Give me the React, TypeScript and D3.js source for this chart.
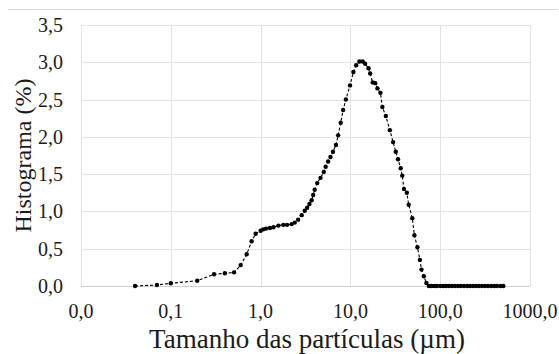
import React from "react";
import * as d3 from "d3";

const sizes: number[] = [
  0.04, 0.07, 0.1, 0.197, 0.303, 0.4, 0.506, 0.6, 0.7, 0.795, 0.88, 1.0, 1.07, 1.15, 1.27, 1.39,
  1.58, 1.79, 1.97, 2.22, 2.4, 2.62, 2.87, 3.1, 3.3, 3.5, 3.7, 3.85, 4.0, 4.27, 4.65, 5.05, 5.3,
  5.65, 6.0, 6.4, 6.9, 7.3, 7.8, 8.3, 8.9, 9.9, 10.8, 11.6, 12.6, 13.7, 14.6, 15.9, 16.6, 17.7,
  18.9, 20.0, 21.6, 22.7, 24.8, 27.5, 29.9, 32.0, 33.9, 36.3, 37.8, 39.5, 42.5, 44.6, 48.9, 51.6,
  55.8, 59.4, 61.9, 65.7, 70.2, 75, 80, 86, 92, 100, 108, 116, 125, 135, 146, 158, 170, 184, 200,
  215, 232, 250, 270, 292, 315, 340, 370, 400, 430, 470, 505,
];
const histogram: number[] = [
  0.0, 0.013, 0.036, 0.071, 0.157, 0.17, 0.183, 0.28, 0.425, 0.6, 0.7, 0.74, 0.76, 0.77, 0.777,
  0.787, 0.81, 0.82, 0.82, 0.83, 0.85, 0.89, 0.95, 1.01, 1.05, 1.1, 1.15, 1.22, 1.29, 1.38, 1.45,
  1.53, 1.6, 1.67, 1.73, 1.8, 1.89, 2.02, 2.19, 2.36, 2.5, 2.69, 2.87, 2.96, 3.01, 3.01, 2.98, 2.92,
  2.85, 2.73, 2.72, 2.65, 2.59, 2.4, 2.28, 2.09, 1.93, 1.8, 1.7, 1.58, 1.48, 1.3, 1.25, 1.09, 0.91,
  0.68, 0.52, 0.35, 0.22, 0.13, 0.04, 0, 0, 0, 0, 0, 0, 0, 0, 0, 0, 0, 0, 0, 0, 0, 0, 0, 0, 0, 0, 0,
  0, 0, 0, 0, 0,
];
const xTicks: number[] = [0.01, 0.1, 1, 10, 100, 1000];
const xTickLabels: string[] = ["0,0", "0,1", "1,0", "10,0", "100,0", "1000,0"];
const yTicks: number[] = [0, 0.5, 1, 1.5, 2, 2.5, 3, 3.5];
const xTitle = "Tamanho das partículas (µm)";
const yTitle = "Histograma (%)";

const W = 559;
const H = 354;
const plot = { left: 81, right: 530, top: 25, bottom: 286 };
const FONT = "'Liberation Serif', 'Times New Roman', serif";

export default function App() {
  const x = d3.scaleLog().domain([0.01, 1000]).range([plot.left, plot.right]);
  const y = d3.scaleLinear().domain([0, 3.5]).range([plot.bottom, plot.top]);
  const data = sizes.map((s, i) => ({ s, v: histogram[i] }));
  const line = d3
    .line<{ s: number; v: number }>()
    .x((d) => x(d.s))
    .y((d) => y(d.v));
  const fmt = (v: number) => v.toFixed(1).replace(".", ",");
  const grid = "#e3e3e3";
  const textStyle = { fontFamily: FONT };
  return (
    <svg
      width={W}
      height={H}
      style={{ position: "absolute", left: 0, top: 0, background: "#fff" }}
    >
      <line x1={8} x2={558} y1={9.5} y2={9.5} stroke="#d9d9d9" strokeWidth={1} />
      {yTicks.map((t) => (
        <line key={"gy" + t} x1={plot.left} x2={plot.right} y1={Math.round(y(t)) + 0.5} y2={Math.round(y(t)) + 0.5} stroke={grid} strokeWidth={1} />
      ))}
      {xTicks.map((t) => (
        <line key={"gx" + t} x1={Math.round(x(t)) + 0.5} x2={Math.round(x(t)) + 0.5} y1={plot.top} y2={plot.bottom} stroke={grid} strokeWidth={1} />
      ))}
      <line x1={plot.left} x2={plot.right} y1={Math.round(y(0)) + 0.5} y2={Math.round(y(0)) + 0.5} stroke="#d0d0d0" strokeWidth={1} />
      {yTicks.map((t) => (
        <text key={"ty" + t} x={63} y={y(t)} dy="0.35em" textAnchor="end" fontSize={20} fill="#1a1a1a" style={textStyle}>
          {fmt(t)}
        </text>
      ))}
      {xTicks.map((t, i) => (
        <text key={"tx" + t} x={x(t)} y={318} textAnchor="middle" fontSize={20} fill="#1a1a1a" style={textStyle}>
          {xTickLabels[i]}
        </text>
      ))}
      <path d={line(data) || ""} fill="none" stroke="#000" strokeWidth={1.1} strokeDasharray="3,2" />
      {data.map((d, i) => (
        <circle key={"p" + i} cx={x(d.s)} cy={y(d.v)} r={2.2} fill="#000" />
      ))}
      <text x={307} y={348} textAnchor="middle" fontSize={27} fill="#1a1a1a" style={textStyle}>
        {xTitle}
      </text>
      <text
        transform={`translate(31,155.5) rotate(-90)`}
        textAnchor="middle"
        fontSize={24}
        fill="#1a1a1a"
        style={textStyle}
      >
        {yTitle}
      </text>
    </svg>
  );
}
